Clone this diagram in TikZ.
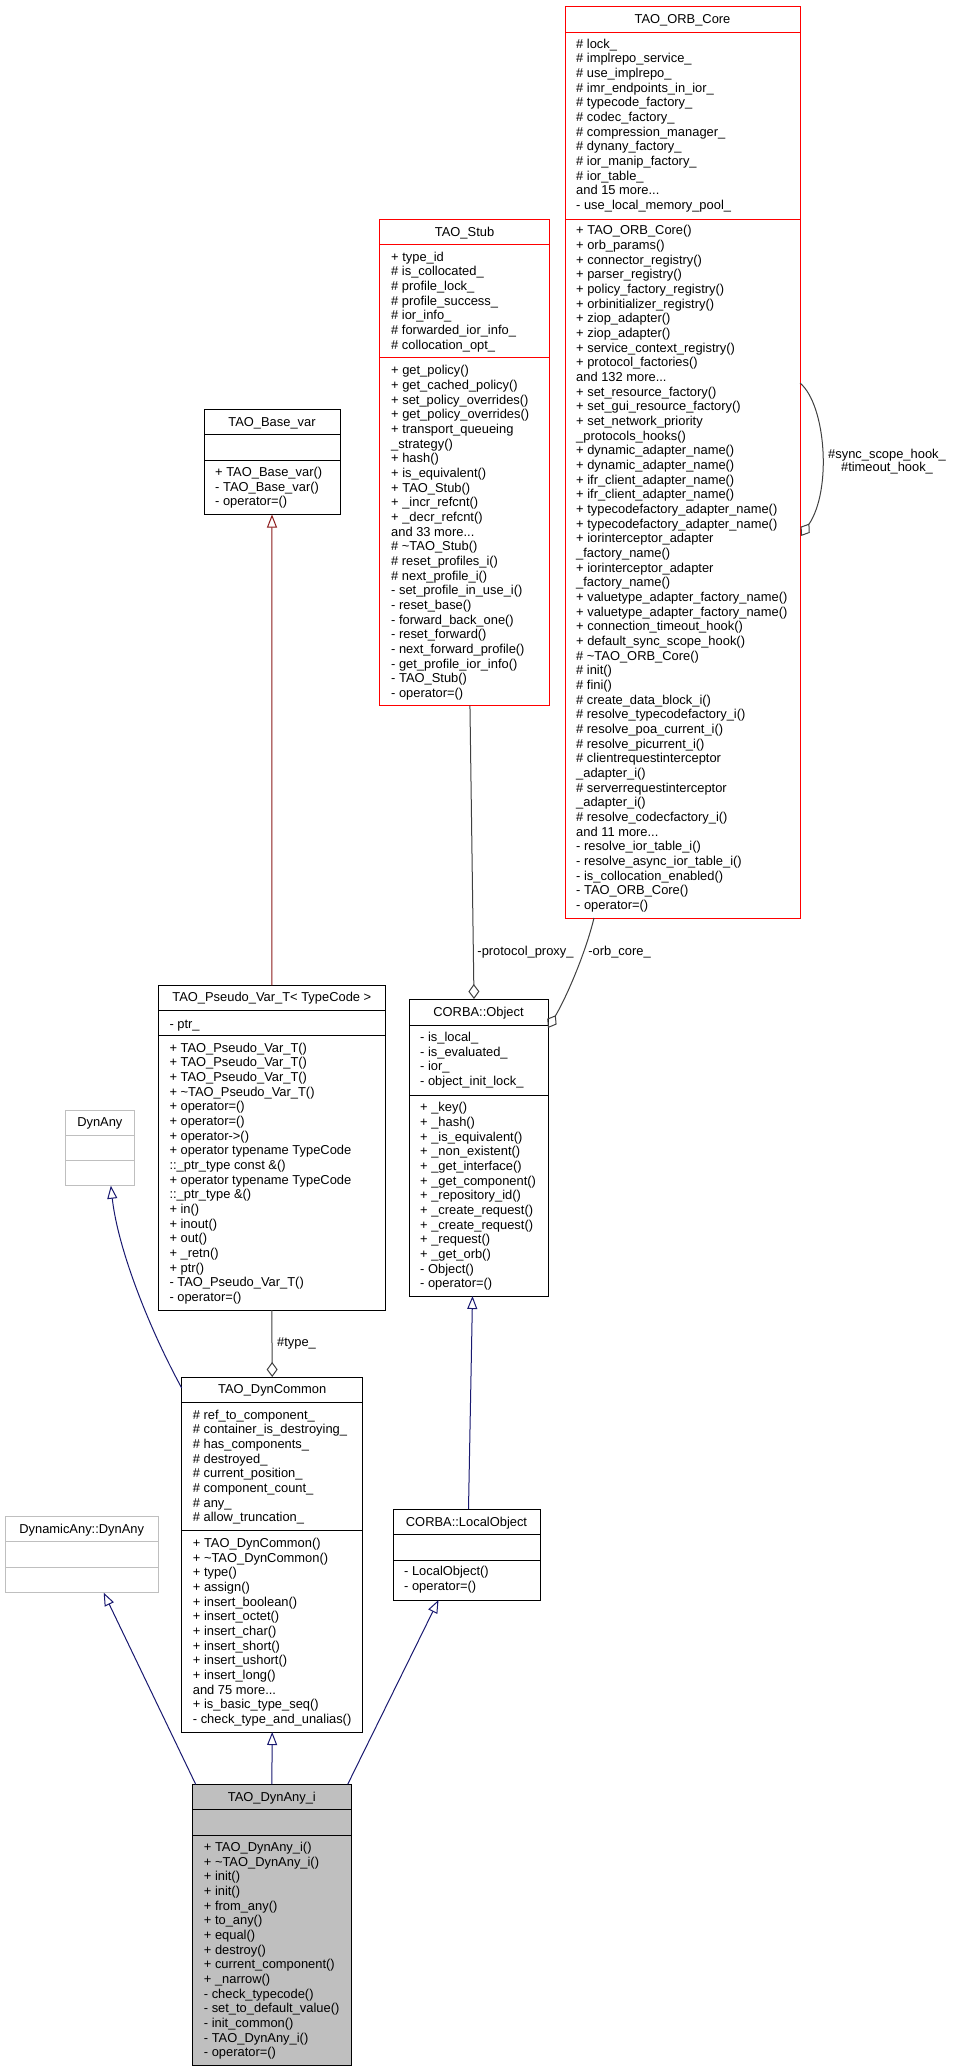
\documentclass[tikz,border=0pt]{standalone}
\usepackage{fontspec}
\setmainfont{Liberation Sans}
\usetikzlibrary{arrows.meta,calc}

\definecolor{edgeblue}{HTML}{191970}
\definecolor{edgegray}{HTML}{404040}
\definecolor{edgebrown}{HTML}{8B1A1A}
\definecolor{boxgray}{HTML}{BFBFBF}
\definecolor{boxred}{HTML}{FF0000}

\newcommand{\mfont}{\fontsize{12.9pt}{14.67pt}\selectfont}
\newcommand{\fstrut}{\rule{0pt}{10.5pt}}

\begin{document}
\begin{tikzpicture}[x=1pt, y=-1pt,
    classbox/.style={draw, line width=1pt, inner sep=0pt, outer sep=0pt},
    classtitle/.style={anchor=base, font=\mfont, inner sep=0pt},
    members/.style={anchor=north west, align=left, font=\mfont, inner sep=0pt},
    edgelabel/.style={font=\mfont, inner sep=0pt},
    inherit/.style={draw=edgeblue, line width=1pt, -{Triangle[open, length=13pt, width=10pt]}},
    privinherit/.style={draw=edgebrown, line width=1pt, -{Triangle[open, length=13pt, width=10pt]}},
    usage/.style={draw=edgegray, line width=1pt, -{Diamond[open, length=15pt, width=11pt]}}]
        \useasboundingbox (0,0) rectangle (953,2072);

        % TAO_ORB_Core
        \node[classbox, draw=boxred, minimum width=235pt, minimum height=912pt] (orbcore) at (682.5,462) {};
        \draw[boxred, line width=1pt] (orbcore.west |- 0,32) -- (orbcore.east |- 0,32);
        \draw[boxred, line width=1pt] (orbcore.west |- 0,219) -- (orbcore.east |- 0,219);
        \node[classtitle] (orbcoretitle) at (682.5,23.5) {TAO\_ORB\_Core};
        \node[members] (orbcoreattr) at (576,37.3) {\fstrut\# lock\_\\
            \# implrepo\_service\_\\ \# use\_implrepo\_\\ \# imr\_endpoints\_in\_ior\_\\
            \# typecode\_factory\_\\ \# codec\_factory\_\\ \# compression\_manager\_\\
            \# dynany\_factory\_\\ \# ior\_manip\_factory\_\\ \# ior\_table\_\\
            and 15 more...\\ - use\_local\_memory\_pool\_};
        \node[members] (orbcoreops) at (576,224) {\fstrut+ TAO\_ORB\_Core()\\
            + orb\_params()\\ + connector\_registry()\\ + parser\_registry()\\
            + policy\_factory\_registry()\\ + orbinitializer\_registry()\\
            + ziop\_adapter()\\ + ziop\_adapter()\\ + service\_context\_registry()\\
            + protocol\_factories()\\ and 132 more...\\ + set\_resource\_factory()\\
            + set\_gui\_resource\_factory()\\ + set\_network\_priority\\ \_protocols\_hooks()\\
            + dynamic\_adapter\_name()\\ + dynamic\_adapter\_name()\\
            + ifr\_client\_adapter\_name()\\ + ifr\_client\_adapter\_name()\\
            + typecodefactory\_adapter\_name()\\ + typecodefactory\_adapter\_name()\\
            + iorinterceptor\_adapter\\ \_factory\_name()\\
            + iorinterceptor\_adapter\\ \_factory\_name()\\
            + valuetype\_adapter\_factory\_name()\\ + valuetype\_adapter\_factory\_name()\\
            + connection\_timeout\_hook()\\ + default\_sync\_scope\_hook()\\
            \# \textasciitilde TAO\_ORB\_Core()\\ \# init()\\ \# fini()\\
            \# create\_data\_block\_i()\\ \# resolve\_typecodefactory\_i()\\
            \# resolve\_poa\_current\_i()\\ \# resolve\_picurrent\_i()\\
            \# clientrequestinterceptor\\ \_adapter\_i()\\
            \# serverrequestinterceptor\\ \_adapter\_i()\\
            \# resolve\_codecfactory\_i()\\ and 11 more...\\
            - resolve\_ior\_table\_i()\\ - resolve\_async\_ior\_table\_i()\\
            - is\_collocation\_enabled()\\ - TAO\_ORB\_Core()\\ - operator=()};

        % TAO_Stub
        \node[classbox, draw=boxred, minimum width=170.1pt, minimum height=486.1pt] (stub) at (464.55,462.55) {};
        \draw[boxred, line width=1pt] (stub.west |- 0,244.7) -- (stub.east |- 0,244.7);
        \draw[boxred, line width=1pt] (stub.west |- 0,357.7) -- (stub.east |- 0,357.7);
        \node[classtitle] (stubtitle) at (464.55,236.5) {TAO\_Stub};
        \node[members] (stubattr) at (391,250.3) {\fstrut+ type\_id\\
            \# is\_collocated\_\\ \# profile\_lock\_\\ \# profile\_success\_\\
            \# ior\_info\_\\ \# forwarded\_ior\_info\_\\ \# collocation\_opt\_};
        \node[members] (stubops) at (391,364) {\fstrut+ get\_policy()\\
            + get\_cached\_policy()\\ + set\_policy\_overrides()\\ + get\_policy\_overrides()\\
            + transport\_queueing\\ \_strategy()\\ + hash()\\ + is\_equivalent()\\
            + TAO\_Stub()\\ + \_incr\_refcnt()\\ + \_decr\_refcnt()\\ and 33 more...\\
            \# \textasciitilde TAO\_Stub()\\ \# reset\_profiles\_i()\\ \# next\_profile\_i()\\
            - set\_profile\_in\_use\_i()\\ - reset\_base()\\ - forward\_back\_one()\\
            - reset\_forward()\\ - next\_forward\_profile()\\ - get\_profile\_ior\_info()\\
            - TAO\_Stub()\\ - operator=()};

        % TAO_Base_var
        \node[classbox, minimum width=136pt, minimum height=105pt] (basevar) at (272,462) {};
        \draw[line width=1pt] (basevar.west |- 0,434.5) -- (basevar.east |- 0,434.5);
        \draw[line width=1pt] (basevar.west |- 0,460.5) -- (basevar.east |- 0,460.5);
        \node[classtitle] (basevartitle) at (272,426.5) {TAO\_Base\_var};
        \node[members] (basevarops) at (215,465.8) {\fstrut+ TAO\_Base\_var()\\
            - TAO\_Base\_var()\\ - operator=()};

        % TAO_Pseudo_Var_T< TypeCode >
        \node[classbox, minimum width=227pt, minimum height=324.7pt] (pseudo) at (271.8,1147.65) {};
        \draw[line width=1pt] (pseudo.west |- 0,1010.7) -- (pseudo.east |- 0,1010.7);
        \draw[line width=1pt] (pseudo.west |- 0,1035.7) -- (pseudo.east |- 0,1035.7);
        \node[classtitle] (pseudotitle) at (271.8,1001.8) {TAO\_Pseudo\_Var\_T< TypeCode >};
        \node[members] (pseudoattr) at (169.3,1018) {\fstrut- ptr\_};
        \node[members] (pseudoops) at (169.3,1041.3) {\fstrut+ TAO\_Pseudo\_Var\_T()\\
            + TAO\_Pseudo\_Var\_T()\\ + TAO\_Pseudo\_Var\_T()\\ + \textasciitilde TAO\_Pseudo\_Var\_T()\\
            + operator=()\\ + operator=()\\ + operator->()\\
            + operator typename TypeCode\\ ::\_ptr\_type const \&()\\
            + operator typename TypeCode\\ ::\_ptr\_type \&()\\
            + in()\\ + inout()\\ + out()\\ + \_retn()\\ + ptr()\\
            - TAO\_Pseudo\_Var\_T()\\ - operator=()};

        % CORBA::Object
        \node[classbox, minimum width=139pt, minimum height=297pt] (object) at (478.5,1147.5) {};
        \draw[line width=1pt] (object.west |- 0,1025) -- (object.east |- 0,1025);
        \draw[line width=1pt] (object.west |- 0,1095) -- (object.east |- 0,1095);
        \node[classtitle] (objecttitle) at (478.5,1016.2) {CORBA::Object};
        \node[members] (objectattr) at (420,1030.7) {\fstrut- is\_local\_\\
            - is\_evaluated\_\\ - ior\_\\ - object\_init\_lock\_};
        \node[members] (objectops) at (420,1101) {\fstrut+ \_key()\\
            + \_hash()\\ + \_is\_equivalent()\\ + \_non\_existent()\\
            + \_get\_interface()\\ + \_get\_component()\\ + \_repository\_id()\\
            + \_create\_request()\\ + \_create\_request()\\ + \_request()\\
            + \_get\_orb()\\ - Object()\\ - operator=()};

        % DynAny
        \node[classbox, draw=boxgray, minimum width=69.7pt, minimum height=75.7pt] (dynany) at (99.85,1147.85) {};
        \draw[boxgray, line width=1pt] (dynany.west |- 0,1135.3) -- (dynany.east |- 0,1135.3);
        \draw[boxgray, line width=1pt] (dynany.west |- 0,1160.7) -- (dynany.east |- 0,1160.7);
        \node[classtitle] (dynanytitle) at (99.85,1126.5) {DynAny};

        % TAO_DynCommon
        \node[classbox, minimum width=181pt, minimum height=355pt] (dyncommon) at (272.2,1554.5) {};
        \draw[line width=1pt] (dyncommon.west |- 0,1402.7) -- (dyncommon.east |- 0,1402.7);
        \draw[line width=1pt] (dyncommon.west |- 0,1530.7) -- (dyncommon.east |- 0,1530.7);
        \node[classtitle] (dyncommontitle) at (272.2,1393.5) {TAO\_DynCommon};
        \node[members] (dyncommonattr) at (192.7,1408.3) {\fstrut\# ref\_to\_component\_\\
            \# container\_is\_destroying\_\\ \# has\_components\_\\ \# destroyed\_\\
            \# current\_position\_\\ \# component\_count\_\\ \# any\_\\ \# allow\_truncation\_};
        \node[members] (dyncommonops) at (192.7,1536.7) {\fstrut+ TAO\_DynCommon()\\
            + \textasciitilde TAO\_DynCommon()\\ + type()\\ + assign()\\ + insert\_boolean()\\
            + insert\_octet()\\ + insert\_char()\\ + insert\_short()\\ + insert\_ushort()\\
            + insert\_long()\\ and 75 more...\\ + is\_basic\_type\_seq()\\
            - check\_type\_and\_unalias()};

        % CORBA::LocalObject
        \node[classbox, minimum width=147pt, minimum height=91pt] (localobj) at (466.5,1554.5) {};
        \draw[line width=1pt] (localobj.west |- 0,1534.3) -- (localobj.east |- 0,1534.3);
        \draw[line width=1pt] (localobj.west |- 0,1560) -- (localobj.east |- 0,1560);
        \node[classtitle] (localobjtitle) at (466.5,1526) {CORBA::LocalObject};
        \node[members] (localobjops) at (404,1565) {\fstrut- LocalObject()\\ - operator=()};

        % DynamicAny::DynAny
        \node[classbox, draw=boxgray, minimum width=152.6pt, minimum height=76pt] (dynamicany) at (81.7,1554.7) {};
        \draw[boxgray, line width=1pt] (dynamicany.west |- 0,1541.7) -- (dynamicany.east |- 0,1541.7);
        \draw[boxgray, line width=1pt] (dynamicany.west |- 0,1567.7) -- (dynamicany.east |- 0,1567.7);
        \node[classtitle] (dynamicanytitle) at (81.7,1533.5) {DynamicAny::DynAny};

        % TAO_DynAny_i
        \node[classbox, fill=boxgray, minimum width=158.3pt, minimum height=281.4pt] (dynanyi) at (271.85,1925) {};
        \draw[line width=1pt] (dynanyi.west |- 0,1809.3) -- (dynanyi.east |- 0,1809.3);
        \draw[line width=1pt] (dynanyi.west |- 0,1835) -- (dynanyi.east |- 0,1835);
        \node[classtitle] (dynanyititle) at (271.85,1801.2) {TAO\_DynAny\_i};
        \node[members] (dynanyiops) at (203.7,1840.7) {\fstrut+ TAO\_DynAny\_i()\\
            + \textasciitilde TAO\_DynAny\_i()\\ + init()\\ + init()\\ + from\_any()\\
            + to\_any()\\ + equal()\\ + destroy()\\ + current\_component()\\ + \_narrow()\\
            - check\_typecode()\\ - set\_to\_default\_value()\\ - init\_common()\\
            - TAO\_DynAny\_i()\\ - operator=()};

        % edge labels
        \node[edgelabel] (lblproxy) at (525.5,952) {-protocol\_proxy\_};
        \node[edgelabel] (lblorbcore) at (619.5,952) {-orb\_core\_};
        \node[edgelabel] (lbltype) at (296.5,1343) {\#type\_};
        \node[edgelabel, align=center, font=\fontsize{12.9pt}{13.3pt}\selectfont] (lblhooks) at (887,461.5) {\#sync\_scope\_hook\_\\\#timeout\_hook\_};

        % inheritance
        \path[inherit] (dynanyi.north) -- (dyncommon.south);
        \path[inherit] ($(dynanyi.north west)+(3,0)$) -- ($(dynamicany.south)+(22,0)$);
        \path[inherit] ($(dynanyi.north east)+(-3.3,0)$) -- ($(localobj.south)+(-28,0)$);
        \path[inherit] ($(dyncommon.north west)+(0,11)$) .. controls (150,1330) and (118,1250) .. ($(dynany.south)+(11,0)$);
        \path[inherit] ($(localobj.north)+(2,0)$) -- ($(object.south)+(-6,0)$);
        \path[privinherit] (pseudo.north) -- (basevar.south);

        % usage
        \path[usage] (pseudo.south) -- (dyncommon.north);
        \path[usage] ($(stub.south)+(5.4,0)$) -- ($(object.north)+(-4.5,0)$);
        \path[usage] ($(orbcore.south west)+(29,0)$) .. controls (585,955) and (565,1000) .. ($(object.north east)+(0,29)$);
        \path[usage] ($(orbcore.north east)+(0,377)$) .. controls (826,405) and (832,490) .. ($(orbcore.north east)+(1,530)$);
\end{tikzpicture}
\end{document}
